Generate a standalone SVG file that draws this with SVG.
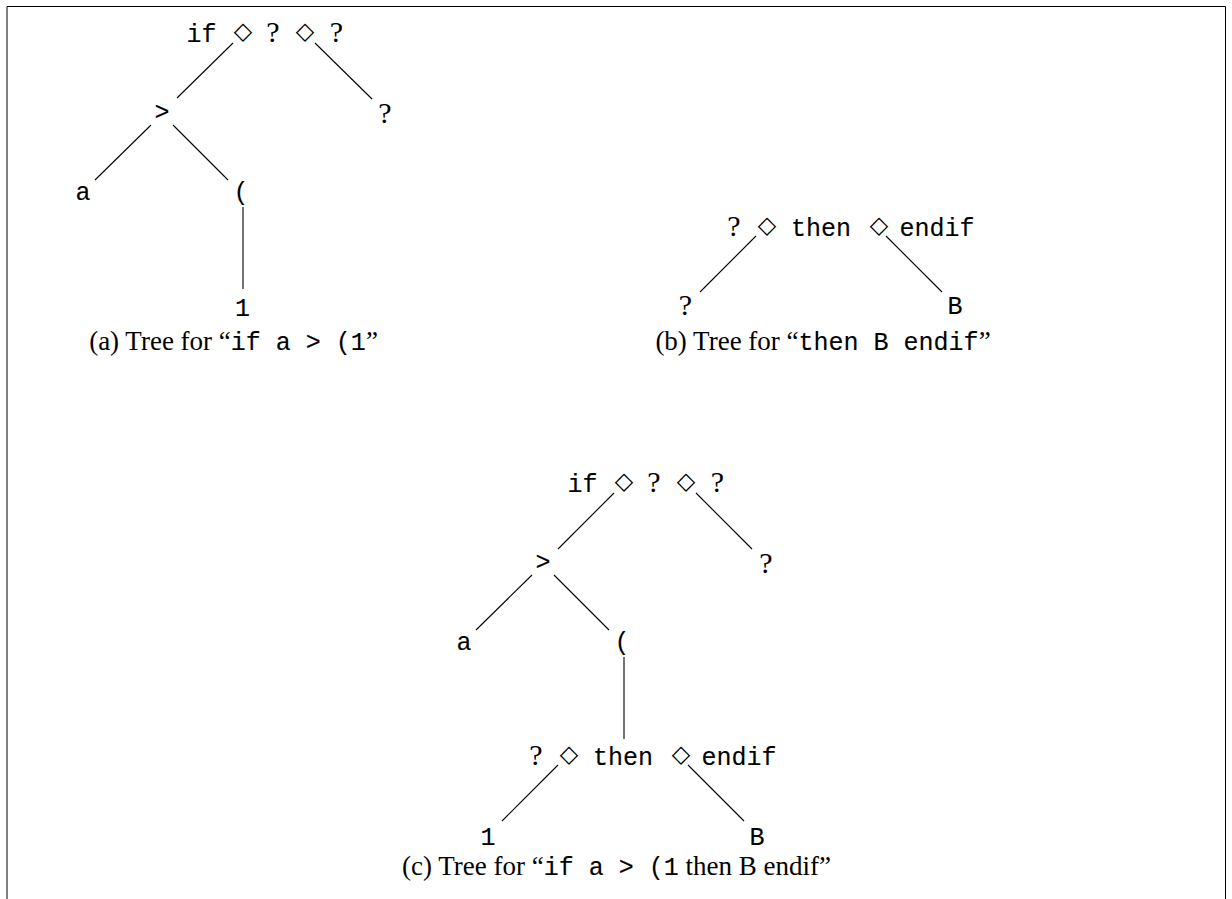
<svg xmlns="http://www.w3.org/2000/svg" width="1232" height="899" viewBox="0 0 1232 899">
<style>
.tt{font-family:"Liberation Mono","DejaVu Sans Mono",monospace;font-size:25px;fill:#000;stroke:#000;stroke-width:0.12;text-anchor:middle}
.rm{font-family:"Liberation Serif","DejaVu Serif",serif;font-size:30px;fill:#000;text-anchor:middle}
.dm{font-family:"DejaVu Sans",sans-serif;font-size:24px;fill:#000;text-anchor:middle}
.cap{font-family:"Liberation Serif","DejaVu Serif",serif;font-size:27px;fill:#000;text-anchor:middle}
.cap tspan.m{font-family:"Liberation Mono","DejaVu Sans Mono",monospace;font-size:25px;stroke:#000;stroke-width:0.12}
.e{stroke:#000;stroke-width:1.1;fill:none}
</style>
<path d="M7,899 V6.5 H1225.5 V899" fill="none" stroke="#000" stroke-width="1"/>
<g id="connectors">
<line class="e" x1="233" y1="43" x2="177" y2="98"/>
<line class="e" x1="315" y1="43" x2="372" y2="99"/>
<line class="e" x1="151" y1="125" x2="95" y2="180"/>
<line class="e" x1="173" y1="125" x2="228" y2="180"/>
<line class="e" x1="243" y1="207" x2="243" y2="289"/>
<line class="e" x1="756" y1="236" x2="700" y2="292"/>
<line class="e" x1="886" y1="236" x2="942" y2="292"/>
<line class="e" x1="614" y1="493" x2="558" y2="549"/>
<line class="e" x1="696" y1="493" x2="752" y2="549"/>
<line class="e" x1="532" y1="575" x2="476" y2="630"/>
<line class="e" x1="554" y1="575" x2="609" y2="630"/>
<line class="e" x1="624" y1="657" x2="624" y2="739"/>
<line class="e" x1="558" y1="765" x2="502" y2="821"/>
<line class="e" x1="688" y1="765" x2="744" y2="821"/>
</g>
<g id="a-root"><text class="tt" x="201.5" y="42">if</text><text class="dm" x="243" y="39">◇</text><text class="rm" x="273" y="42">?</text><text class="dm" x="305" y="39">◇</text><text class="rm" x="336.5" y="42">?</text></g>
<g id="a-gt"><text class="tt" x="162" y="120">&gt;</text></g>
<g id="a-q"><text class="rm" x="385" y="123">?</text></g>
<g id="a-a"><text class="tt" x="83" y="200">a</text></g>
<g id="a-paren"><text class="tt" x="241" y="200">(</text></g>
<g id="a-1"><text class="tt" x="242.5" y="316">1</text></g>
<g id="cap-a"><text class="cap" x="233.5" y="350">(a) Tree for “<tspan class="m">if a &gt; (1</tspan>”</text></g>
<g id="b-root"><text class="rm" x="734" y="236">?</text><text class="dm" x="767" y="233">◇</text><text class="tt" x="821" y="236">then</text><text class="dm" x="879" y="233">◇</text><text class="tt" x="937" y="236">endif</text></g>
<g id="b-q"><text class="rm" x="685.5" y="315">?</text></g>
<g id="b-B"><text class="tt" x="955" y="314">B</text></g>
<g id="cap-b"><text class="cap" x="823" y="350">(b) Tree for “<tspan class="m">then B endif</tspan>”</text></g>
<g id="c-root"><text class="tt" x="582.5" y="492">if</text><text class="dm" x="624" y="489">◇</text><text class="rm" x="654" y="492">?</text><text class="dm" x="686" y="489">◇</text><text class="rm" x="717.5" y="492">?</text></g>
<g id="c-gt"><text class="tt" x="543" y="570">&gt;</text></g>
<g id="c-q"><text class="rm" x="766" y="573">?</text></g>
<g id="c-a"><text class="tt" x="464" y="650">a</text></g>
<g id="c-paren"><text class="tt" x="622" y="650">(</text></g>
<g id="c-then"><text class="rm" x="536" y="765">?</text><text class="dm" x="569" y="762">◇</text><text class="tt" x="623" y="765">then</text><text class="dm" x="681" y="762">◇</text><text class="tt" x="739" y="765">endif</text></g>
<g id="c-1"><text class="tt" x="488" y="845">1</text></g>
<g id="c-B"><text class="tt" x="757" y="845">B</text></g>
<g id="cap-c"><text class="cap" x="616.5" y="875">(c) Tree for “<tspan class="m">if a &gt; (1</tspan> then B endif”</text></g>
</svg>
